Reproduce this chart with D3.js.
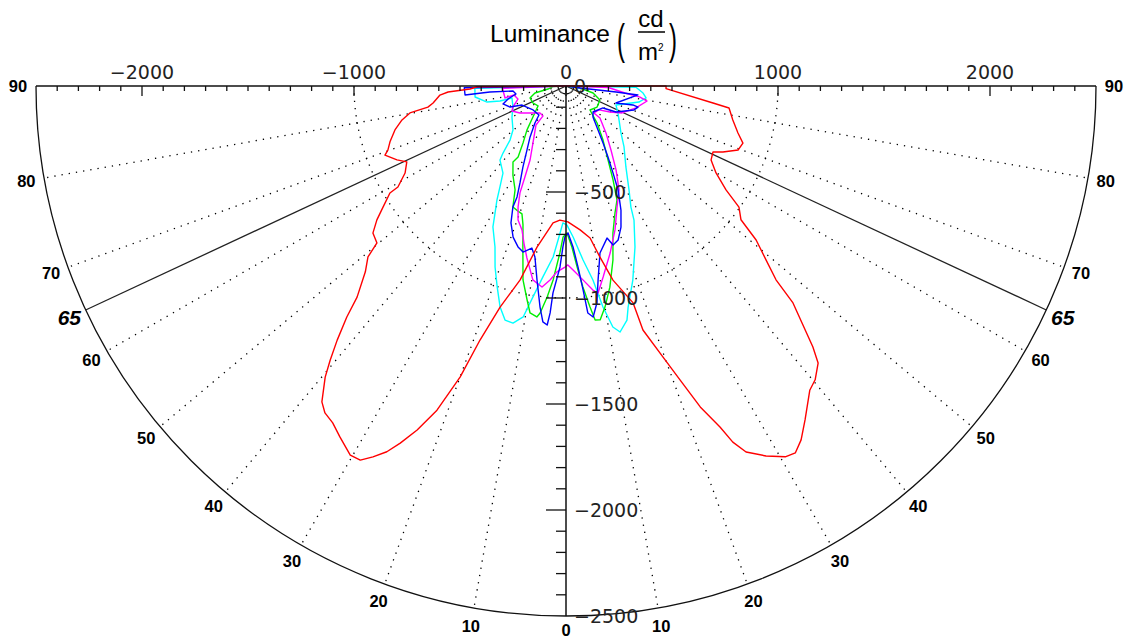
<!DOCTYPE html>
<html><head><meta charset="utf-8">
<script src="https://cdn.jsdelivr.net/npm/d3@7"></script>
<style>html,body{margin:0;padding:0;background:#fff;} svg{display:block;}</style>
</head><body>
<svg id="chart" width="1133" height="638"></svg>
<script>
// ---- data (angle in degrees, negative = left half; luminance in cd/m2) ----
const angleTicks = [0, 10, 20, 30, 40, 50, 60, 70, 80, 90];
const markedAngle = 65;
const gridAngles = [10, 20, 30, 40, 50, 60, 70, 80];
const luminanceTicks = [-2000, -1000, 0, 1000, 2000];
const depthTicks = [0, -500, -1000, -1500, -2000, -2500];
const gridCircles = [1000];

const redSeries = [[-90,0],[-89.5,420],[-88.2,453],[-87.1,557],[-85.9,596],[-82.7,632],[-81.3,659],[-80.2,747],[-78.3,790],[-75.6,833],[-72.4,871],[-70.2,893],[-69.1,914],[-66.4,870],[-64.5,832],[-61.6,863],[-59,925],[-58.7,972],[-56.5,1035],[-54.7,1093],[-52.7,1145],[-50.3,1159],[-49.2,1234],[-47.2,1290],[-44.7,1401],[-43.5,1502],[-42,1613],[-40.7,1706],[-39.6,1782],[-37.7,1883],[-36.4,1916],[-34.7,1933],[-32.8,1969],[-30.3,2017],[-28.8,2014],[-27.5,1972],[-26.1,1921],[-24.9,1857],[-23.4,1768],[-21.7,1646],[-20,1461],[-18.7,1265],[-16.6,1088],[-13.3,940],[-10.2,772],[-5.4,649],[-2.6,633],[0.8,641],[5.6,682],[9,726],[11.2,822],[13.6,942],[17.2,1071],[17.5,1207],[19.7,1358],[21.2,1487],[22.7,1641],[24.3,1765],[25.1,1855],[26.2,1924],[28.4,1984],[30.6,2032],[32,2041],[33.6,2004],[35.6,1937],[38.7,1839],[40.3,1817],[42.3,1767],[43.4,1695],[46.3,1481],[47.3,1348],[49,1250],[51,1154],[52.6,1039],[55,996],[57,900],[59.9,818],[63,768],[65.8,760],[67.2,803],[69.6,866],[72.1,877],[74.7,841],[78.5,803],[82.3,776],[83.4,698],[88.5,472],[90,472],[90,0]];

const cyanSeries = [[-90,0],[-88.5,430],[-83.1,432],[-78.5,380],[-77.2,319],[-77.5,261],[-68.4,269],[-60.1,294],[-50.3,325],[-46,367],[-43.2,434],[-41.7,468],[-35.9,507],[-33.2,569],[-31.2,629],[-29.2,686],[-27.4,749],[-23.8,830],[-21.4,917],[-18.9,1002],[-16.6,1088],[-14.6,1141],[-12.6,1146],[-10.5,1108],[-8.9,1007],[-6.9,907],[-4.3,809],[-2.3,694],[-1.3,646],[0.4,656],[2.7,713],[5.6,825],[7.9,924],[9.5,1057],[11,1158],[12.4,1188],[14.6,1141],[15.7,1083],[19,968],[23.2,826],[26.9,709],[28.2,648],[31.2,574],[36.5,475],[43.6,397],[49.5,341],[62.6,276],[69.2,252],[77.6,352],[81.5,382],[84.8,365],[89,330],[90,0]];

const blueSeries = [[-90,0],[-89,480],[-84.9,478],[-85.5,360],[-84.6,251],[-80.9,239],[-77.4,280],[-74.1,309],[-69.4,282],[-66.6,226],[-54,192],[-43,187],[-40,228],[-35.2,294],[-31.4,353],[-28,433],[-25.4,506],[-23.8,572],[-23.7,623],[-21.9,696],[-19.3,755],[-16.6,792],[-14.5,809],[-11.9,781],[-10.3,820],[-8.5,925],[-6.7,1050],[-5.6,1118],[-4.5,1131],[-4,1073],[-3.6,978],[-1.9,854],[-1.1,759],[-0.4,712],[0.8,693],[2.5,760],[3.8,856],[4.8,966],[5.5,1076],[6.7,1097],[8.1,1034],[9.4,927],[11.5,804],[15.1,743],[16.5,782],[18.7,767],[21.3,714],[23.9,640],[26.6,549],[28.4,466],[30.6,389],[33,321],[36,257],[41,194],[46.1,177],[59.3,203],[62.5,266],[70.6,340],[73.7,354],[74.2,328],[71.2,249],[82.9,342],[83.2,238],[82,67],[90,0]];

const magentaSeries = [[-90,0],[-88,300],[-78.9,293],[-80.2,249],[-74.8,235],[-68.4,269],[-65.2,281],[-59.6,252],[-50.7,201],[-43.9,177],[-37.5,178],[-37.6,232],[-30.1,311],[-25.9,388],[-24.3,471],[-23.3,549],[-21.6,614],[-19.7,671],[-17,710],[-15,767],[-12.8,832],[-9.7,928],[-6.8,955],[-4.7,918],[-2.8,878],[-0.3,854],[0.6,844],[2.2,869],[5,918],[7.5,971],[8.8,988],[11,918],[14.8,815],[18.8,717],[22.9,619],[27,551],[30.8,461],[35.1,369],[40.4,291],[46.7,220],[46,183],[54,192],[59.4,241],[64.3,293],[72.6,346],[79.5,389],[81.5,353],[83.2,280],[88,200],[90,0]];

const greenSeries = [[-90,0],[-88,60],[-80.5,86],[-77.3,150],[-71.6,179],[-62.7,175],[-54.5,162],[-46.8,214],[-41.6,277],[-37,337],[-34,404],[-34.9,437],[-30.8,489],[-26.1,546],[-23.7,623],[-21,632],[-19,638],[-17.2,686],[-15,786],[-12.5,937],[-10.3,1026],[-9,1084],[-7.2,1098],[-6.5,1078],[-5.1,999],[-3.8,917],[-2.1,788],[-1.1,712],[0.4,693],[2.1,760],[3.5,855],[4.8,951],[6.2,1049],[7.1,1112],[8.3,1115],[10,1059],[12.3,971],[15.1,850],[17.7,728],[21.1,642],[24.1,589],[26.6,496],[29.6,401],[34.4,309],[40,228],[45,160],[55.9,177],[67.6,173],[75.5,132],[81.9,67],[90,0]];

const seriesList = [
  {data: cyanSeries, color: "#00ffff"},
  {data: greenSeries, color: "#00ee00"},
  {data: magentaSeries, color: "#ff00ff"},
  {data: blueSeries, color: "#0000ff"},
  {data: redSeries, color: "#ff0000"}
];

// ---- layout ----
const cx = 566, cy = 86, R = 530;
const maxLum = 2500;
const rScale = d3.scaleLinear().domain([0, maxLum]).range([0, R]);
const xScale = d3.scaleLinear().domain([-maxLum, maxLum]).range([cx - R, cx + R]);
const yScale = d3.scaleLinear().domain([0, -maxLum]).range([cy, cy + R]);
const rad = g => g * Math.PI / 180;
const fmt = d3.format("");

const svg = d3.select("#chart");
const font = "'Liberation Sans', Arial, sans-serif";
const axisFont = "'DejaVu Sans', sans-serif";

const plot = svg.append("g").attr("transform", `translate(${cx},${cy})`);

// dotted radial grid lines
const radials = [];
gridAngles.forEach(a => { radials.push(a); radials.push(-a); });
plot.selectAll("line.grid").data(radials).join("line")
  .attr("x1", 0).attr("y1", 0)
  .attr("x2", d => rScale(maxLum) * Math.sin(rad(d)))
  .attr("y2", d => rScale(maxLum) * Math.cos(rad(d)))
  .attr("stroke", "#000").attr("stroke-width", 1.3)
  .attr("stroke-dasharray", "1.3 6");

// dotted circles
gridCircles.forEach(v => {
  const p = d3.path();
  p.arc(0, 0, rScale(v), 0, Math.PI);
  plot.append("path").attr("d", p.toString()).attr("fill", "none")
    .attr("stroke", "#000").attr("stroke-width", 1.3).attr("stroke-dasharray", "1.3 6");
});

// solid 65 degree lines
[markedAngle, -markedAngle].forEach(a => {
  plot.append("line").attr("x1", 0).attr("y1", 0)
    .attr("x2", rScale(maxLum) * Math.sin(rad(a)))
    .attr("y2", rScale(maxLum) * Math.cos(rad(a)))
    .attr("stroke", "#222").attr("stroke-width", 1.3);
});

// outer arc
{
  const p = d3.path();
  p.arc(0, 0, rScale(maxLum), 0, Math.PI);
  plot.append("path").attr("d", p.toString()).attr("fill", "none")
    .attr("stroke", "#111").attr("stroke-width", 1.3);
}

// angle labels
const labelR = rScale(maxLum) + 18;
const angLabels = [];
angleTicks.forEach(a => { angLabels.push(a); if (a !== 0) angLabels.push(-a); });
plot.selectAll("text.ang").data(angLabels).join("text")
  .attr("x", d => labelR * Math.sin(rad(d)))
  .attr("y", d => Math.min(labelR * Math.cos(rad(d)), 544))
  .attr("text-anchor", "middle").attr("dy", "0.36em")
  .attr("font-family", font).attr("font-weight", "bold").attr("font-size", 16.5)
  .attr("fill", "#000")
  .text(d => Math.abs(d));
[markedAngle, -markedAngle].forEach(a => {
  plot.append("text")
    .attr("x", labelR * Math.sin(rad(a)))
    .attr("y", labelR * Math.cos(rad(a)))
    .attr("text-anchor", "middle").attr("dy", "0.36em")
    .attr("font-family", font).attr("font-weight", "bold").attr("font-style", "italic")
    .attr("font-size", 21).attr("fill", "#000")
    .text(markedAngle);
});

// top luminance axis
svg.append("line").attr("x1", xScale(-maxLum)).attr("x2", xScale(maxLum))
  .attr("y1", cy).attr("y2", cy).attr("stroke", "#111").attr("stroke-width", 1.5);
const minorX = d3.range(-2400, 2401, 100);
svg.selectAll("line.tx").data(minorX).join("line")
  .attr("x1", d => xScale(d)).attr("x2", d => xScale(d))
  .attr("y1", cy).attr("y2", d => cy + (d % 1000 === 0 ? 10 : 5))
  .attr("stroke", "#111").attr("stroke-width", 1.3);
svg.selectAll("text.tx").data(luminanceTicks).join("text")
  .attr("x", d => xScale(d)).attr("y", cy - 7)
  .attr("text-anchor", "middle")
  .attr("font-family", axisFont).attr("font-size", 19).attr("fill", "#222")
  .text(d => fmt(d));

// vertical axis
svg.append("line").attr("x1", cx).attr("x2", cx)
  .attr("y1", yScale(0)).attr("y2", yScale(-maxLum))
  .attr("stroke", "#111").attr("stroke-width", 1.5);
const minorY = d3.range(-100, -2500, -100);
svg.selectAll("line.ty").data(minorY).join("line")
  .attr("y1", d => yScale(d)).attr("y2", d => yScale(d))
  .attr("x1", d => cx - (d % 500 === 0 ? 20 : 10)).attr("x2", cx)
  .attr("stroke", "#111").attr("stroke-width", 1.3);
svg.selectAll("text.ty").data(depthTicks).join("text")
  .attr("x", cx + 8).attr("y", d => yScale(d)).attr("dy", "0.36em")
  .attr("font-family", axisFont).attr("font-size", 19).attr("fill", "#222")
  .text(d => fmt(d));

// title
const title = svg.append("g").attr("font-family", font).attr("fill", "#000");
title.append("text").attr("x", 490).attr("y", 42).attr("font-size", 24.5).text("Luminance");
title.append("text").attr("transform", "translate(617,54) scale(1,1.8)")
  .attr("font-size", 24).text("(");
title.append("text").attr("x", 651).attr("y", 27).attr("font-size", 24)
  .attr("text-anchor", "middle").text("cd");
title.append("line").attr("x1", 638).attr("x2", 665).attr("y1", 32).attr("y2", 32)
  .attr("stroke", "#000").attr("stroke-width", 1.5);
title.append("text").attr("x", 638).attr("y", 60).attr("font-size", 24).text("m");
title.append("text").attr("x", 658).attr("y", 51).attr("font-size", 10).text("2");
title.append("text").attr("transform", "translate(669,54) scale(1,1.8)")
  .attr("font-size", 24).text(")");

// luminance curves
const radialLine = d3.lineRadial()
  .angle(d => rad(180 - d[0]))
  .radius(d => rScale(d[1]));
plot.selectAll("path.series").data(seriesList).join("path")
  .attr("d", d => radialLine(d.data))
  .attr("fill", "none")
  .attr("stroke", d => d.color)
  .attr("stroke-width", 1.4)
  .attr("stroke-linejoin", "round");
</script>
</body></html>
